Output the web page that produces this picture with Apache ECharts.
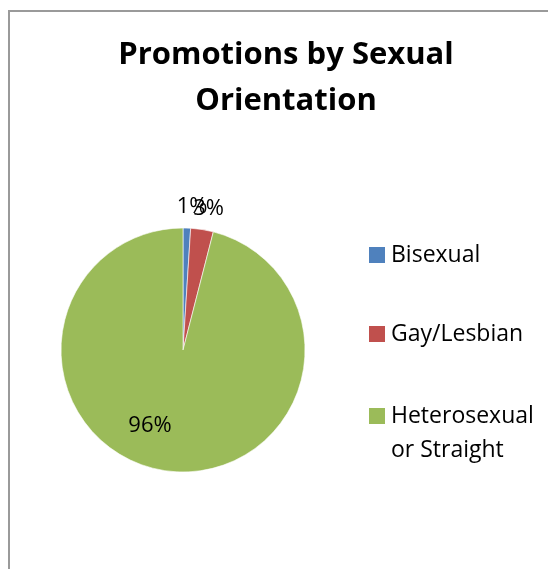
<!DOCTYPE html>
<html>
<head>
<meta charset="utf-8">
<script src="https://cdn.jsdelivr.net/npm/echarts@6/dist/echarts.min.js"></script>
<style>
  html, body { margin: 0; padding: 0; width: 548px; height: 569px; overflow: hidden; background: #fff; }
  #frame { position: absolute; left: 8px; top: 10px; width: 620px; height: 640px; border: 2px solid #9a9a9a; box-sizing: border-box; }
  #chart { position: absolute; left: 0; top: 0; width: 548px; height: 569px; }
</style>
</head>
<body>
<div id="frame"></div>
<div id="chart"></div>
<script>
// Promotions split by sexual orientation (percent of total)
const categories = ['Bisexual', 'Gay/Lesbian', 'Heterosexual or Straight'];
// leading blank line keeps the swatch level with the first text line of the wrapped entry
const legendLabels = ['Bisexual', 'Gay/Lesbian', '\nHeterosexual\nor Straight'];
const shares = [1, 3, 96];
const colors = ['#4F81BD', '#C0504D', '#9BBB59'];

const FONT = '"Open Sans", "Liberation Sans", sans-serif';

const pieData = categories.map((name, i) => ({
  name: name,
  value: shares[i],
  itemStyle: { color: colors[i] },
  label: i === 2 ? { position: 'inside' } : { position: 'outside' }
}));

// one legend block per category, stacked down the right side
const legendTops = [238, 317, 365];
const legends = categories.map((name, i) => ({
  show: true,
  orient: 'vertical',
  left: 367,
  top: legendTops[i],
  padding: 0,
  itemWidth: 18,
  itemHeight: 18,
  icon: 'rect',
  selectedMode: false,
  data: [name],
  formatter: () => legendLabels[i],
  textStyle: { fontFamily: FONT, fontSize: 23, color: '#000', lineHeight: 34 }
}));

const chart = echarts.init(document.getElementById('chart'), null, { renderer: 'canvas' });
chart.setOption({
  animation: false,
  title: {
    text: 'Promotions by Sexual\nOrientation',
    left: 286,
    top: 32,
    textAlign: 'center',
    padding: 0,
    textStyle: { fontFamily: FONT, fontSize: 31, fontWeight: 'bold', color: '#000', lineHeight: 46 }
  },
  legend: legends,
  series: [{
    type: 'pie',
    center: [183, 350],
    radius: 122,
    startAngle: 90,
    clockwise: true,
    avoidLabelOverlap: false,
    silent: true,
    itemStyle: { borderColor: '#fff', borderWidth: 0.6 },
    label: {
      show: true,
      formatter: '{c}%',
      fontFamily: FONT,
      fontSize: 22,
      color: '#000'
    },
    labelLine: { show: false, length: 10, length2: 0 },
    labelLayout: (params) => {
      if (params.dataIndex === 2) return { dx: -25, dy: 12 };
      return { align: 'center', verticalAlign: 'bottom' };
    },
    data: pieData
  }]
});
</script>
</body>
</html>
